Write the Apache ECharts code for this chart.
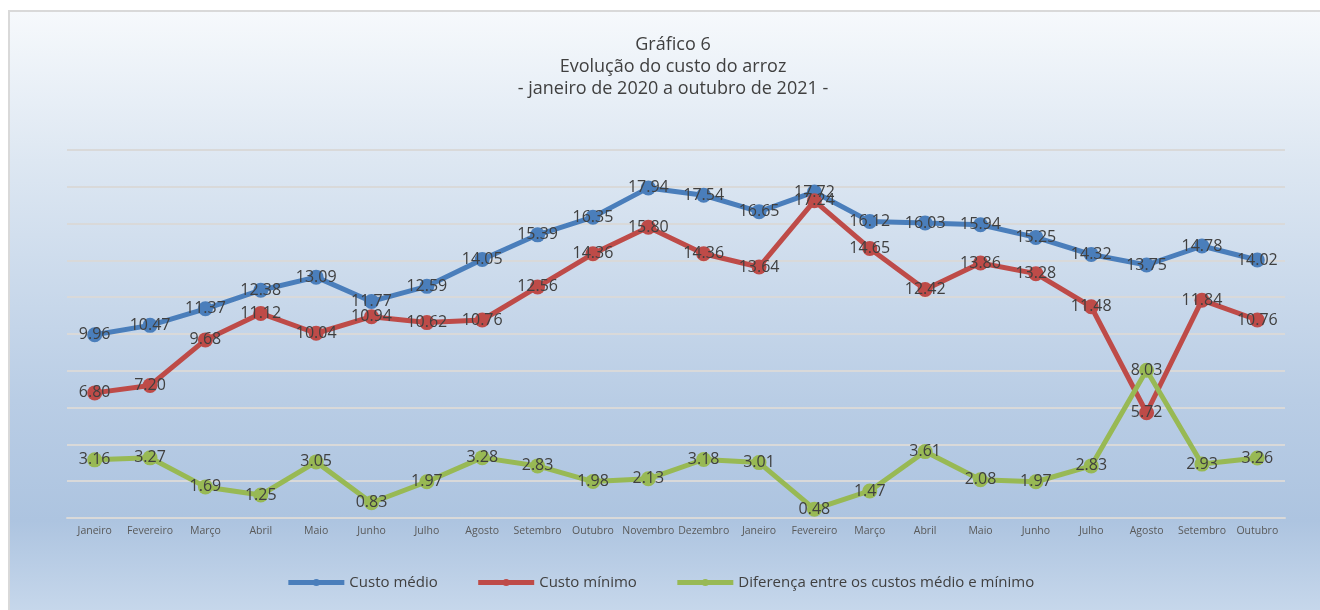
<!DOCTYPE html>
<html>
<head>
<meta charset="utf-8">
<script src="https://cdn.jsdelivr.net/npm/echarts@6/dist/echarts.min.js"></script>
<style>
  html, body { margin: 0; padding: 0; background: #fff; }
  #frame {
    position: absolute; left: 8px; top: 10px; width: 1312px; height: 600px;
    box-sizing: border-box;
    border-left: 2px solid #d9d9d9; border-top: 2px solid #d9d9d9;
    background: linear-gradient(to bottom, #f6f9fc 0%, #dde7f2 25%, #b9cde5 65%, #adc4e0 85%, #c6d7eb 100%);
  }
  #chart { position: absolute; left: 0; top: 0; width: 1320px; height: 610px; }
</style>
</head>
<body>
<div id="frame"></div>
<div id="chart"></div>
<script>
const months = ["Janeiro", "Fevereiro", "Março", "Abril", "Maio", "Junho", "Julho", "Agosto", "Setembro", "Outubro", "Novembro", "Dezembro",
  "Janeiro", "Fevereiro", "Março", "Abril", "Maio", "Junho", "Julho", "Agosto", "Setembro", "Outubro"];
const custoMedio = [9.96, 10.47, 11.37, 12.38, 13.09, 11.77, 12.59, 14.05, 15.39, 16.35, 17.94, 17.54,
  16.65, 17.72, 16.12, 16.03, 15.94, 15.25, 14.32, 13.75, 14.78, 14.02];
const custoMinimo = [6.80, 7.20, 9.68, 11.12, 10.04, 10.94, 10.62, 10.76, 12.56, 14.36, 15.80, 14.36,
  13.64, 17.24, 14.65, 12.42, 13.86, 13.28, 11.48, 5.72, 11.84, 10.76];
const diferenca = [3.16, 3.27, 1.69, 1.25, 3.05, 0.83, 1.97, 3.28, 2.83, 1.98, 2.13, 3.18,
  3.01, 0.48, 1.47, 3.61, 2.08, 1.97, 2.83, 8.03, 2.93, 3.26];

const font = "'Open Sans', sans-serif";

const makeSeries = (name, data, color) => ({
  name,
  type: "line",
  data,
  symbol: "circle",
  symbolSize: 15,
  lineStyle: { width: 5, color },
  itemStyle: { color },
  label: {
    show: true,
    position: "inside",
    formatter: (p) => p.value.toFixed(2),
    fontFamily: font,
    fontSize: 16,
    color: "#404040",
  },
  emphasis: { disabled: true },
  animation: false,
});

const chart = echarts.init(document.getElementById("chart"));
chart.setOption({
  backgroundColor: "transparent",
  title: {
    text: "Gráfico 6\nEvolução do custo do arroz\n- janeiro de 2020 a outubro de 2021 -",
    left: 668,
    top: 29,
    textAlign: "center",
    textStyle: {
      fontFamily: font,
      fontSize: 18,
      fontWeight: "normal",
      color: "#404040",
      lineHeight: 22,
    },
  },
  legend: {
    bottom: 15,
    left: "center",
    itemWidth: 56,
    itemHeight: 9,
    itemGap: 38,
    lineStyle: { width: 5 },
    textStyle: { fontFamily: font, fontSize: 15, color: "#404040" },
    data: ["Custo médio", "Custo mínimo", "Diferença entre os custos médio e mínimo"],
  },
  grid: { left: 67, right: 35, top: 150, bottom: 92 },
  xAxis: {
    type: "category",
    data: months,
    boundaryGap: true,
    axisTick: { show: false },
    axisLine: { lineStyle: { color: "#d9d9d9", width: 2 } },
    axisLabel: { fontFamily: font, fontSize: 10.5, color: "#595959", margin: 8, interval: 0 },
  },
  yAxis: {
    type: "value",
    min: 0,
    max: 20,
    interval: 2,
    axisLabel: { show: false },
    axisLine: { show: false },
    axisTick: { show: false },
    splitLine: { lineStyle: { color: "#d9d9d9", width: 2 } },
  },
  series: [
    makeSeries("Custo médio", custoMedio, "#4a7ebb"),
    makeSeries("Custo mínimo", custoMinimo, "#be4b48"),
    makeSeries("Diferença entre os custos médio e mínimo", diferenca, "#98b954"),
  ],
});
</script>
</body>
</html>
